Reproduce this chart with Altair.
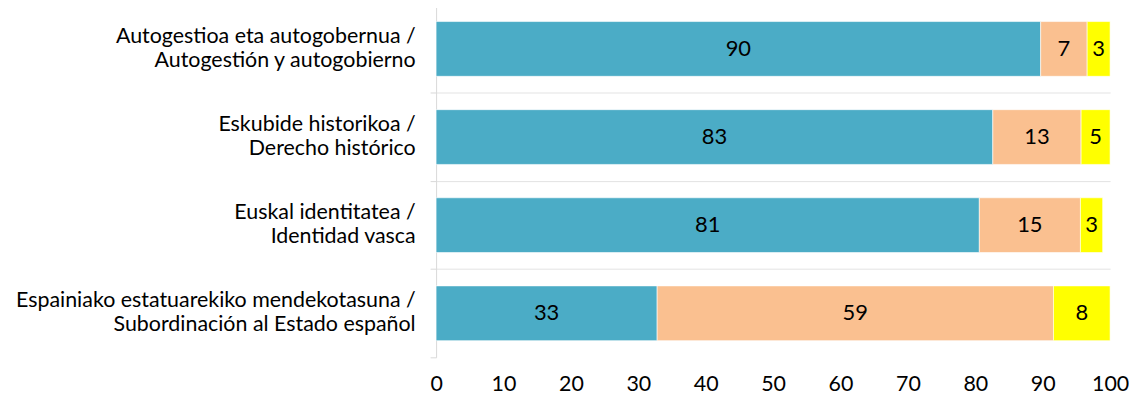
import altair as alt
import pandas as pd

# Categories (Basque / Spanish)
cat_eu = [
    "Autogestioa eta autogobernua",
    "Eskubide historikoa",
    "Euskal identitatea",
    "Espainiako estatuarekiko mendekotasuna",
]
cat_es = [
    "Autogestión y autogobierno",
    "Derecho histórico",
    "Identidad vasca",
    "Subordinación al Estado español",
]

series = ["s1", "s2", "s3"]
# Segment lengths
seg1 = [89.7, 82.6, 80.6, 32.8]
seg2 = [6.9, 13.1, 15.0, 58.8]
seg3 = [3.4, 4.3, 3.3, 8.4]
# Printed data labels
lab1 = ["90", "83", "81", "33"]
lab2 = ["7", "13", "15", "59"]
lab3 = ["3", "5", "3", "8"]

colors = ["#4BACC6", "#FAC090", "#FFFF00"]

categories = [f"{a} / {b}" for a, b in zip(cat_eu, cat_es)]
rows = []
for i, cat in enumerate(categories):
    start = 0.0
    for s, vals, labs in zip(series, [seg1, seg2, seg3], [lab1, lab2, lab3]):
        v = vals[i]
        rows.append({
            "cat": cat, "series": s, "start": start, "end": start + v,
            "mid": start + v / 2, "label": labs[i],
        })
        start += v
df = pd.DataFrame(rows)

FONT = "Lato"
FS = 21.5
last_cat = categories[-1]

y = alt.Y(
    "cat:N",
    sort=categories,
    title=None,
    scale=alt.Scale(paddingInner=0, paddingOuter=0),
    axis=alt.Axis(
        labelExpr="datum.label ? [split(datum.label, ' / ')[0] + ' /', split(datum.label, ' / ')[1]] : ''",
        labelFont=FONT,
        labelFontSize=FS,
        labelColor="#000000",
        labelLineHeight=24,
        labelBaseline="middle",
        labelOffset=-12,
        labelPadding=15,
        labelLimit=600,
        tickSize=6,
        tickColor="#D9D9D9",
        domainColor="#D9D9D9",
        bandPosition=1,
        tickExtra=True,
        grid=True,
        gridColor="#E3E3E3",
        gridOpacity={
            "condition": {"test": f"datum.extra || datum.value == '{last_cat}'", "value": 0},
            "value": 1,
        },
        labelOpacity={
            "condition": {"test": "datum.extra", "value": 0},
            "value": 1,
        },
    ),
)

x_scale = alt.Scale(domain=[0, 100])

bars = alt.Chart(df).mark_bar(size=55, stroke="white", strokeWidth=0.6).encode(
    y=y,
    x=alt.X(
        "start:Q",
        scale=x_scale,
        title=None,
        axis=alt.Axis(
            values=list(range(0, 101, 10)),
            grid=False,
            domain=False,
            ticks=False,
            labelFlush=False,
            labelOverlap=False,
            labelFont=FONT,
            labelFontSize=FS,
            labelColor="#000000",
            labelPadding=16,
        ),
    ),
    x2="end:Q",
    color=alt.Color(
        "series:N",
        scale=alt.Scale(domain=series, range=colors),
        legend=None,
    ),
)

text = alt.Chart(df).mark_text(
    font=FONT, fontSize=22, color="#000000", baseline="middle", align="center"
).encode(
    y=alt.Y("cat:N", sort=categories),
    x=alt.X("mid:Q", scale=x_scale),
    text="label:N",
)

chart = (
    alt.layer(bars, text)
    .properties(
        width=677,
        height=354,
        autosize=alt.AutoSizeParams(type="none"),
        padding={"left": 430, "top": -4, "right": 19, "bottom": 40},
    )
    .configure_view(stroke=None)
)

chart.save("out.html", embed_options={"renderer": "svg", "actions": False})
